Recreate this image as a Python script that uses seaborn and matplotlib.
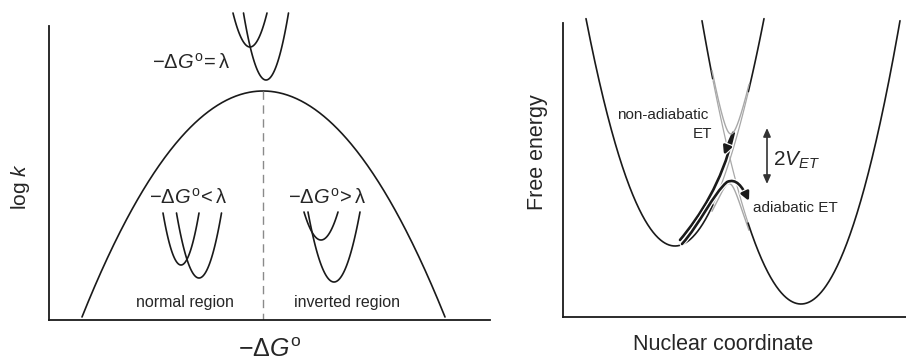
import numpy as np
import pandas as pd
import seaborn as sns
import matplotlib.pyplot as plt
from matplotlib.patches import FancyArrowPatch
from matplotlib.path import Path
import matplotlib.patheffects as pe

sns.set_theme(style="white")
plt.rcParams['font.family'] = ['Liberation Sans', 'DejaVu Sans']
plt.rcParams['mathtext.fontset'] = 'custom'
plt.rcParams['mathtext.rm'] = 'Liberation Sans'
plt.rcParams['mathtext.it'] = 'Liberation Sans:italic'
plt.rcParams['mathtext.bf'] = 'Liberation Sans:bold'
plt.rcParams['mathtext.sf'] = 'Liberation Sans'

# ---------------- data (schematic units, y grows downward) ----------------
# Left panel: Marcus rate curve  log k  vs  -dG
rate_peak_x = 263
rate_peak_y = 91
rate_foot_x = [82, 445]
rate_foot_y = 317

# Inset potential wells: vertex x, vertex y, half width at top, top y
well_region = ["equal", "equal", "normal", "normal", "inverted", "inverted"]
well_vx = [250, 266, 181, 199, 321, 334]
well_vy = [47, 80, 265, 278, 240, 282]
well_hw = [17, 22.5, 18, 22.5, 17, 26]
well_top = [13, 13, 213, 213, 212, 212]

# Right panel: diabatic free-energy surfaces
surf_name = ["reactant", "product"]
surf_vx = [675, 801]
surf_vy = [246, 304]
surf_k = [0.0287, 0.0289]
surf_x0 = [586, 702]
surf_x1 = [764, 900]
coupling_V = 25
gray_window = [713, 748]

INK = "#1a1a1a"
GRAY = "#a8a8a8"
TXT = "#262626"

fig = plt.figure(figsize=(9.06, 3.62), dpi=100)
ax1 = fig.add_axes([49 / 906, 42 / 362, 441 / 906, 320 / 362])
ax2 = fig.add_axes([563 / 906, 45 / 362, 343 / 906, 317 / 362])

# ---------------- left panel ----------------
xs = np.linspace(rate_foot_x[0], rate_foot_x[1], 400)
half = np.where(xs < rate_peak_x, rate_peak_x - rate_foot_x[0], rate_foot_x[1] - rate_peak_x)
ys = rate_peak_y + (rate_foot_y - rate_peak_y) * ((xs - rate_peak_x) / half) ** 2
sns.lineplot(x=xs, y=ys, ax=ax1, color=INK, lw=1.2, estimator=None)

ax1.plot([rate_peak_x, rate_peak_x], [rate_peak_y, 320], color="#8a8a8a",
         lw=1.0, dashes=(6, 4))

for vx, vy, hw, top in zip(well_vx, well_vy, well_hw, well_top):
    wx = np.linspace(vx - hw, vx + hw, 120)
    wy = vy - (vy - top) * ((wx - vx) / hw) ** 2
    sns.lineplot(x=wx, y=wy, ax=ax1, color=INK, lw=1.2, estimator=None)

ax1.set_xlim(49, 490)
ax1.set_ylim(320, 0)

ax1.text(191, 63, r"$-\Delta G^{\mathrm{o}}\!=\mathrm{\lambda}$", ha="center",
         va="center", fontsize=14.5, color=TXT)
ax1.text(188, 198, r"$-\Delta G^{\mathrm{o}}\!<\mathrm{\lambda}$", ha="center",
         va="center", fontsize=14.5, color=TXT)
ax1.text(327, 198, r"$-\Delta G^{\mathrm{o}}\!>\mathrm{\lambda}$", ha="center",
         va="center", fontsize=14.5, color=TXT)
ax1.text(185, 303, "normal region", ha="center", va="center", fontsize=11.5, color=TXT)
ax1.text(347, 303, "inverted region", ha="center", va="center", fontsize=11.5, color=TXT)
ax1.text(20, 187, r"log $k$", rotation=90, ha="center", va="center",
         fontsize=15, color=TXT)
ax1.text(270, 350, r"$-\Delta G^{\mathrm{o}}$", ha="center", va="center",
         fontsize=18, color=TXT)

# ---------------- right panel ----------------
for vx, vy, k, x0, x1 in zip(surf_vx, surf_vy, surf_k, surf_x0, surf_x1):
    cx = np.linspace(x0, x1, 500)
    cy = vy - k * (cx - vx) ** 2
    inside = (cx >= gray_window[0]) & (cx <= gray_window[1])
    left = cx <= gray_window[0]
    right = cx >= gray_window[1]
    for m in (left, right):
        if m.sum() > 1:
            sns.lineplot(x=cx[m], y=cy[m], ax=ax2, color=INK, lw=1.2, estimator=None)
    sns.lineplot(x=cx[inside], y=cy[inside], ax=ax2, color=GRAY, lw=0.9, estimator=None)

# adiabatic branches near the crossing
bx = np.linspace(gray_window[0] - 1, gray_window[1] + 1, 200)
yL = surf_vy[0] - surf_k[0] * (bx - surf_vx[0]) ** 2
yR = surf_vy[1] - surf_k[1] * (bx - surf_vx[1]) ** 2
mid = (yL + yR) / 2
spl = np.sqrt(((yL - yR) / 2) ** 2 + coupling_V ** 2)
ax2.plot(bx, mid - spl, color=GRAY, lw=1.0, zorder=4)
ax2.plot(bx, mid + spl, color=GRAY, lw=1.0, zorder=1)

stroke = [pe.Stroke(linewidth=3.6, foreground="white"), pe.Normal()]

# non-adiabatic ET arrow (goes up through crossing and hooks back)
p_non = Path([(680, 240), (700, 216), (722, 182), (733, 136),
              (736, 124), (724, 155)],
             [Path.MOVETO, Path.CURVE4, Path.CURVE4, Path.CURVE4,
              Path.CURVE3, Path.CURVE3])
a1 = FancyArrowPatch(path=p_non, arrowstyle="-|>,head_length=0.5,head_width=0.25",
                     mutation_scale=10, color=INK, lw=1.9, zorder=3)
a1.set_path_effects(stroke)
ax2.add_patch(a1)

# adiabatic ET arrow (follows lower adiabatic surface over the hump)
p_ad = Path([(682, 244), (700, 224), (713, 194), (727, 182),
             (736, 178), (742, 186), (749, 201)],
            [Path.MOVETO, Path.CURVE4, Path.CURVE4, Path.CURVE4,
             Path.CURVE4, Path.CURVE4, Path.CURVE4])
a2 = FancyArrowPatch(path=p_ad, arrowstyle="-|>,head_length=0.5,head_width=0.25",
                     mutation_scale=10, color=INK, lw=1.9, zorder=3)
a2.set_path_effects(stroke)
ax2.add_patch(a2)

# 2V_ET double arrow
a3 = FancyArrowPatch((767, 128), (767, 184),
                     arrowstyle="<|-|>,head_length=0.5,head_width=0.22",
                     mutation_scale=10, color="#333333", lw=1.2,
                     shrinkA=0, shrinkB=0)
ax2.add_patch(a3)

ax2.set_xlim(563, 906)
ax2.set_ylim(317, 0)

ax2.text(708, 115, "non-adiabatic", ha="right", va="center", fontsize=11, color=TXT)
ax2.text(712, 134, "ET", ha="right", va="center", fontsize=11, color=TXT)
ax2.text(753, 208, "adiabatic ET", ha="left", va="center", fontsize=11, color=TXT)
ax2.text(773, 160, r"$2V_{ET}$", ha="left", va="center", fontsize=15, color=TXT)
ax2.text(538, 152, "Free energy", rotation=90, ha="center", va="center",
         fontsize=15.5, color=TXT)
ax2.text(723, 345, "Nuclear coordinate", ha="center", va="center",
         fontsize=15.5, color=TXT)

for ax in (ax1, ax2):
    ax.set_xticks([])
    ax.set_yticks([])
    ax.set_xlabel("")
    ax.set_ylabel("")
    ax.spines["top"].set_visible(False)
    ax.spines["right"].set_visible(False)
    for s in ("left", "bottom"):
        ax.spines[s].set_color(INK)
        ax.spines[s].set_linewidth(1.3)
    ax.patch.set_alpha(0)
ax1.spines["left"].set_bounds(26, 320)
ax2.spines["left"].set_bounds(23, 317)

fig.savefig("out.png", dpi=100, facecolor="white")
